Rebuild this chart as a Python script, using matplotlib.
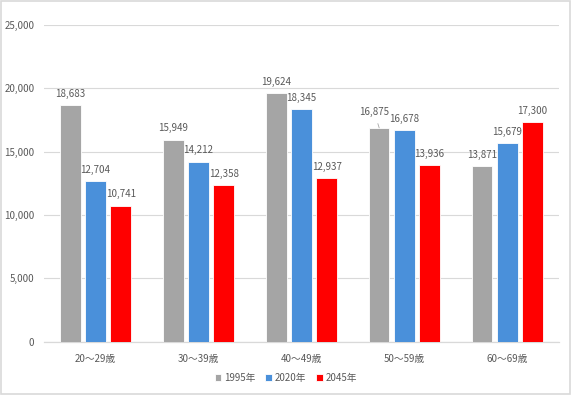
import numpy as np
import matplotlib as mpl
mpl.use('Agg')
import matplotlib.pyplot as plt
from matplotlib.patches import Rectangle

plt.rcParams['font.family'] = ['Noto Sans CJK JP', 'DejaVu Sans']

# data
categories = ['20～29歳', '30～39歳', '40～49歳', '50～59歳', '60～69歳']
series_names = ['1995年', '2020年', '2045年']
v1995 = [18683, 15949, 19624, 16875, 13871]
v2020 = [12704, 14212, 18345, 16678, 15679]
v2045 = [10741, 12358, 12937, 13936, 17300]
yticks = [0, 5000, 10000, 15000, 20000, 25000]

colors = ['#A5A5A5', '#4A90DA', '#FF0000']
txt = '#595959'

fig = plt.figure(figsize=(5.72, 3.96), dpi=100)
ax = fig.add_axes([0.077, 0.1376, 0.9, 0.7994])

x = np.arange(len(categories))
w = 0.2
off = 0.245
for i, (vals, name, col) in enumerate(zip([v1995, v2020, v2045], series_names, colors)):
    xs = x + (i - 1) * off
    ax.bar(xs, vals, width=w, color=col, edgecolor='white', linewidth=0.6, label=name, zorder=3)
    for j, (xx, v) in enumerate(zip(xs, vals)):
        if i == 0 and j == 3:
            # label moved up-left with a leader line
            ax.annotate('{:,}'.format(v), xy=(xx, v), xytext=(-3.6, 11.5),
                        textcoords='offset points', ha='center', va='center',
                        fontsize=7, color=txt,
                        arrowprops=dict(arrowstyle='-', color='#A6A6A6', lw=0.6,
                                        shrinkA=3, shrinkB=0))
        else:
            ax.annotate('{:,}'.format(v), xy=(xx, v), xytext=(0, 8),
                        textcoords='offset points', ha='center', va='center',
                        fontsize=7, color=txt)

ax.set_xlim(-0.5, len(categories) - 0.5)
ax.set_ylim(0, 25000)
ax.set_yticks(yticks)
ax.set_yticklabels(['{:,}'.format(t) for t in yticks])
ax.set_xticks(x)
ax.set_xticklabels(categories)
ax.tick_params(axis='both', length=0, labelsize=7, colors=txt)
ax.tick_params(axis='x', pad=9)
ax.tick_params(axis='y', pad=7)
ax.grid(axis='y', color='#D9D9D9', lw=0.8, zorder=0)
for s in ['top', 'right', 'left']:
    ax.spines[s].set_visible(False)
ax.spines['bottom'].set_color('#D9D9D9')
ax.spines['bottom'].set_linewidth(0.9)

leg = fig.legend(loc='center', bbox_to_anchor=(0.5, 1 - 378 / 396), ncol=3, frameon=False,
                 fontsize=7, handlelength=0.7, handleheight=0.7, handletextpad=0.3,
                 columnspacing=1.0, labelcolor=txt)

fig.patches.append(Rectangle((0.002, 0.004), 0.995, 0.993, transform=fig.transFigure,
                             fill=False, edgecolor='#D9D9D9', lw=1.2))

fig.savefig('out.png', dpi=100)
